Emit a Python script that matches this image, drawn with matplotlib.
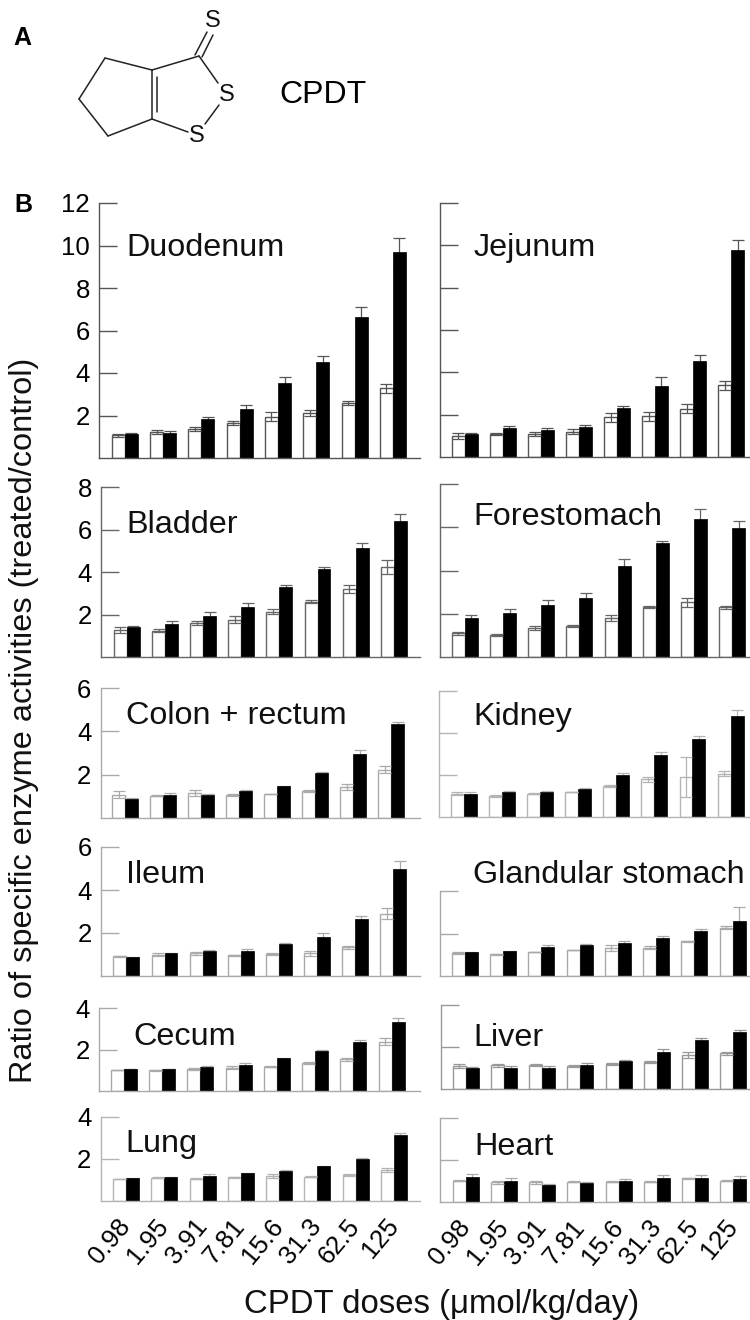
"""Recreate the CPDT enzyme induction figure (structure plus 12 bar panels)."""
import matplotlib
matplotlib.use("Agg")
import matplotlib.pyplot as plt
import numpy as np

plt.rcParams["font.family"] = ["Liberation Sans", "DejaVu Sans"]

doses = ["0.98", "1.95", "3.91", "7.81", "15.6", "31.3", "62.5", "125"]

duodenum_white = [1.07, 1.22, 1.35, 1.65, 1.95, 2.12, 2.58, 3.28]
duodenum_white_err = [0.08, 0.10, 0.10, 0.10, 0.20, 0.13, 0.10, 0.20]
duodenum_black = [1.15, 1.20, 1.82, 2.30, 3.55, 4.50, 6.65, 9.70]
duodenum_black_err = [0.02, 0.08, 0.10, 0.18, 0.25, 0.28, 0.45, 0.65]

jejunum_white = [1.00, 1.09, 1.09, 1.20, 1.87, 1.92, 2.28, 3.38]
jejunum_white_err = [0.13, 0.03, 0.10, 0.12, 0.20, 0.20, 0.22, 0.20]
jejunum_black = [1.09, 1.35, 1.29, 1.40, 2.31, 3.34, 4.55, 9.78]
jejunum_black_err = [0.05, 0.10, 0.06, 0.10, 0.12, 0.45, 0.25, 0.45]

bladder_white = [1.26, 1.23, 1.60, 1.76, 2.13, 2.60, 3.20, 4.22]
bladder_white_err = [0.15, 0.07, 0.10, 0.15, 0.12, 0.08, 0.20, 0.33]
bladder_black = [1.42, 1.56, 1.95, 2.36, 3.29, 4.13, 5.15, 6.40]
bladder_black_err = [0.05, 0.13, 0.18, 0.16, 0.10, 0.10, 0.22, 0.32]

forestomach_white = [1.09, 1.02, 1.33, 1.43, 1.79, 2.30, 2.53, 2.30]
forestomach_white_err = [0.05, 0.05, 0.10, 0.05, 0.13, 0.05, 0.20, 0.08]
forestomach_black = [1.80, 2.02, 2.40, 2.74, 4.20, 5.28, 6.38, 5.95]
forestomach_black_err = [0.15, 0.18, 0.25, 0.20, 0.35, 0.10, 0.45, 0.33]

colon_white = [1.08, 1.03, 1.15, 1.05, 1.10, 1.26, 1.43, 2.23]
colon_white_err = [0.17, 0.03, 0.15, 0.05, 0.01, 0.04, 0.12, 0.15]
colon_black = [0.89, 1.06, 1.08, 1.26, 1.46, 2.10, 2.95, 4.32]
colon_black_err = [0.03, 0.10, 0.05, 0.03, 0.01, 0.02, 0.17, 0.13]

kidney_white = [1.11, 1.00, 1.11, 1.19, 1.48, 1.79, 1.90, 2.06]
kidney_white_err = [0.07, 0.03, 0.02, 0.01, 0.03, 0.10, 0.97, 0.13]
kidney_black = [1.10, 1.18, 1.20, 1.33, 1.98, 2.94, 3.73, 4.80]
kidney_black_err = [0.10, 0.08, 0.05, 0.04, 0.12, 0.17, 0.15, 0.30]

ileum_white = [0.91, 1.00, 1.05, 0.97, 1.04, 1.05, 1.33, 2.90]
ileum_white_err = [0.01, 0.05, 0.08, 0.02, 0.05, 0.10, 0.08, 0.25]
ileum_black = [0.87, 1.05, 1.16, 1.17, 1.50, 1.80, 2.66, 5.00]
ileum_black_err = [0.03, 0.03, 0.03, 0.10, 0.05, 0.18, 0.15, 0.37]

glandular_white = [1.09, 1.02, 1.14, 1.23, 1.34, 1.34, 1.64, 2.28]
glandular_white_err = [0.05, 0.01, 0.01, 0.01, 0.14, 0.06, 0.03, 0.08]
glandular_black = [1.12, 1.17, 1.38, 1.44, 1.56, 1.78, 2.11, 2.60]
glandular_black_err = [0.03, 0.03, 0.07, 0.08, 0.08, 0.12, 0.10, 0.65]

cecum_white = [1.02, 0.99, 1.06, 1.12, 1.18, 1.33, 1.52, 2.37]
cecum_white_err = [0.01, 0.01, 0.05, 0.07, 0.01, 0.05, 0.09, 0.17]
cecum_black = [1.07, 1.06, 1.15, 1.25, 1.58, 1.94, 2.37, 3.33]
cecum_black_err = [0.01, 0.01, 0.04, 0.08, 0.03, 0.03, 0.10, 0.17]

liver_white = [1.10, 1.12, 1.15, 1.11, 1.19, 1.29, 1.62, 1.70]
liver_white_err = [0.08, 0.05, 0.06, 0.04, 0.03, 0.03, 0.14, 0.08]
liver_black = [1.00, 1.00, 1.00, 1.14, 1.33, 1.75, 2.35, 2.70]
liver_black_err = [0.05, 0.10, 0.10, 0.08, 0.04, 0.15, 0.10, 0.10]

lung_white = [1.05, 1.10, 1.07, 1.13, 1.20, 1.16, 1.24, 1.48]
lung_white_err = [0.01, 0.02, 0.02, 0.03, 0.10, 0.03, 0.05, 0.10]
lung_black = [1.08, 1.13, 1.20, 1.31, 1.43, 1.66, 2.00, 3.14]
lung_black_err = [0.03, 0.02, 0.07, 0.02, 0.05, 0.03, 0.03, 0.08]

heart_white = [1.02, 0.93, 0.93, 0.96, 0.96, 0.97, 1.12, 1.02]
heart_white_err = [0.02, 0.08, 0.06, 0.02, 0.03, 0.02, 0.01, 0.01]
heart_black = [1.17, 0.99, 0.82, 0.91, 0.99, 1.14, 1.14, 1.10]
heart_black_err = [0.15, 0.15, 0.03, 0.05, 0.12, 0.16, 0.16, 0.15]

# pixel layout of each panel:
# name, data, ymax, ticks, axis left/right, top/bottom, first bar left, last bar right,
# label x, label baseline, line colour, show tick labels
PANELS = [
    ("Duodenum", (duodenum_white, duodenum_white_err, duodenum_black, duodenum_black_err),
     12, [2, 4, 6, 8, 10, 12], 99, 420, 203, 458, 111.7, 406, 126, 256, "#555555", True),
    ("Jejunum", (jejunum_white, jejunum_white_err, jejunum_black, jejunum_black_err),
     12, [2, 4, 6, 8, 10, 12], 440, 749, 203, 457, 452, 744, 474, 256, "#555555", False),
    ("Bladder", (bladder_white, bladder_white_err, bladder_black, bladder_black_err),
     8, [2, 4, 6, 8], 101, 420, 487, 657, 114, 406.7, 126, 533, "#666666", True),
    ("Forestomach", (forestomach_white, forestomach_white_err, forestomach_black, forestomach_black_err),
     8, [2, 4, 6, 8], 440, 749, 484, 657, 452, 745, 473, 525, "#666666", False),
    ("Colon + rectum", (colon_white, colon_white_err, colon_black, colon_black_err),
     6, [2, 4, 6], 100.5, 420, 688, 818, 112.3, 404, 126, 724, "#aaaaaa", True),
    ("Kidney", (kidney_white, kidney_white_err, kidney_black, kidney_black_err),
     6, [2, 4, 6], 438.5, 749, 691, 817, 451, 743.5, 473, 725, "#b4b4b4", False),
    ("Ileum", (ileum_white, ileum_white_err, ileum_black, ileum_black_err),
     6, [2, 4, 6], 101, 420, 847, 976, 113.5, 406, 126, 883, "#aaaaaa", True),
    ("Glandular stomach", (glandular_white, glandular_white_err, glandular_black, glandular_black_err),
     4, [2, 4], 440, 749, 891, 976, 452, 745.5, 473, 883, "#aaaaaa", False),
    ("Cecum", (cecum_white, cecum_white_err, cecum_black, cecum_black_err),
     4, [2, 4], 99, 420, 1008, 1091, 111, 404.5, 133, 1045, "#aaaaaa", True),
    ("Liver", (liver_white, liver_white_err, liver_black, liver_black_err),
     4, [2, 4], 440.5, 749, 1005, 1089, 453, 746, 473, 1046, "#999999", False),
    ("Lung", (lung_white, lung_white_err, lung_black, lung_black_err),
     4, [2, 4], 100.5, 420, 1117, 1201, 113, 407, 125, 1152, "#b4b4b4", True),
    ("Heart", (heart_white, heart_white_err, heart_black, heart_black_err),
     4, [2, 4], 440, 749, 1118, 1202, 453, 746, 474, 1155, "#aaaaaa", False),
]

FIG_W, FIG_H = 750, 1320
BAR_W = 0.34
PX = 0.72  # points per pixel at dpi 100

# bonds of the CPDT structure, drawn in figure pixels
BONDS = [
    ((105, 58), (152, 70)), ((152, 70), (152, 119)), ((152, 119), (108, 136)),
    ((108, 136), (79, 99)), ((79, 99), (105, 58)), ((157, 77), (157, 112)),
    ((152, 70), (199, 56)), ((199, 56), (218, 83)), ((219, 105), (205, 124)),
    ((152, 119), (188, 132)), ((195, 55), (207, 32)), ((202, 57), (213, 35)),
]
ATOMS = [(213, 21), (227, 95), (197, 136)]


def draw_panel(fig, panel):
    name, data, ymax, ticks, ax_l, ax_r, ax_t, ax_b, bar_l, bar_r, _, _, color, show = panel
    white, white_err, black, black_err = data
    ax = fig.add_axes([ax_l / FIG_W, 1 - ax_b / FIG_H,
                       (ax_r - ax_l) / FIG_W, (ax_b - ax_t) / FIG_H])
    ppu = (bar_r - bar_l) / (7 + 2 * BAR_W)
    ax.set_xlim(-BAR_W - (bar_l - ax_l) / ppu, 7 + BAR_W + (ax_r - bar_r) / ppu)
    ax.set_ylim(0, ymax)

    x = np.arange(len(doses))
    err_style = dict(fmt="none", ecolor=color, elinewidth=0.9, capsize=4.6, capthick=0.9)
    ax.errorbar(x - BAR_W / 2, white, yerr=white_err, zorder=3, **err_style)
    ax.errorbar(x + BAR_W / 2, black, yerr=black_err, zorder=1, **err_style)
    ax.bar(x - BAR_W / 2, white, BAR_W, facecolor="white", edgecolor=color, linewidth=1.0, zorder=2)
    ax.bar(x + BAR_W / 2, black, BAR_W, facecolor="black", edgecolor="black", linewidth=0.5, zorder=2)

    for side in ["top", "right"]:
        ax.spines[side].set_visible(False)
    for side in ["left", "bottom"]:
        ax.spines[side].set_color(color)
        ax.spines[side].set_linewidth(1.0)
    ax.patch.set_alpha(0)

    ax.set_yticks(ticks)
    ax.tick_params(axis="y", direction="in", length=18 * PX, width=1.0, color=color,
                   labelleft=show, labelsize=18.5, pad=6.5)
    ax.set_xticks(x)
    if ax_b > 1195:
        ax.set_xticklabels(doses, rotation=50, rotation_mode="anchor", ha="right",
                           va="center", fontsize=18.5)
        ax.tick_params(axis="x", length=0, pad=15)
    else:
        ax.tick_params(axis="x", length=0, labelbottom=False)


def main():
    fig = plt.figure(figsize=(FIG_W / 100, FIG_H / 100), dpi=100, facecolor="white")

    for panel in PANELS:
        draw_panel(fig, panel)

    # overlay in figure pixels for the structure and free text
    over = fig.add_axes([0, 0, 1, 1], zorder=5)
    over.set_xlim(0, FIG_W)
    over.set_ylim(FIG_H, 0)
    over.axis("off")

    for (x0, y0), (x1, y1) in BONDS:
        over.plot([x0, x1], [y0, y1], color="#222222", lw=1.1, solid_capstyle="round")
    for ax_x, ax_y in ATOMS:
        over.text(ax_x, ax_y, "S", fontsize=17, ha="center", va="center", color="#111111")

    over.text(13, 45, "A", fontsize=18, fontweight="bold", va="baseline")
    over.text(14, 212, "B", fontsize=18, fontweight="bold", va="baseline")
    over.text(279, 103, "CPDT", fontsize=23, va="baseline")

    for panel in PANELS:
        over.text(panel[10], panel[11], panel[0], fontsize=23.3, va="baseline", color="#111111")

    over.text(32, 720.5, "Ratio of specific enzyme activities (treated/control)",
              fontsize=23.4, rotation=90, ha="center", va="baseline",
              rotation_mode="anchor", color="#111111")
    over.text(441.5, 1313, "CPDT doses (\u03bcmol/kg/day)", fontsize=23.7,
              ha="center", va="baseline", color="#111111")

    fig.savefig("out.png", dpi=100)
    plt.close(fig)


if __name__ == "__main__":
    main()
